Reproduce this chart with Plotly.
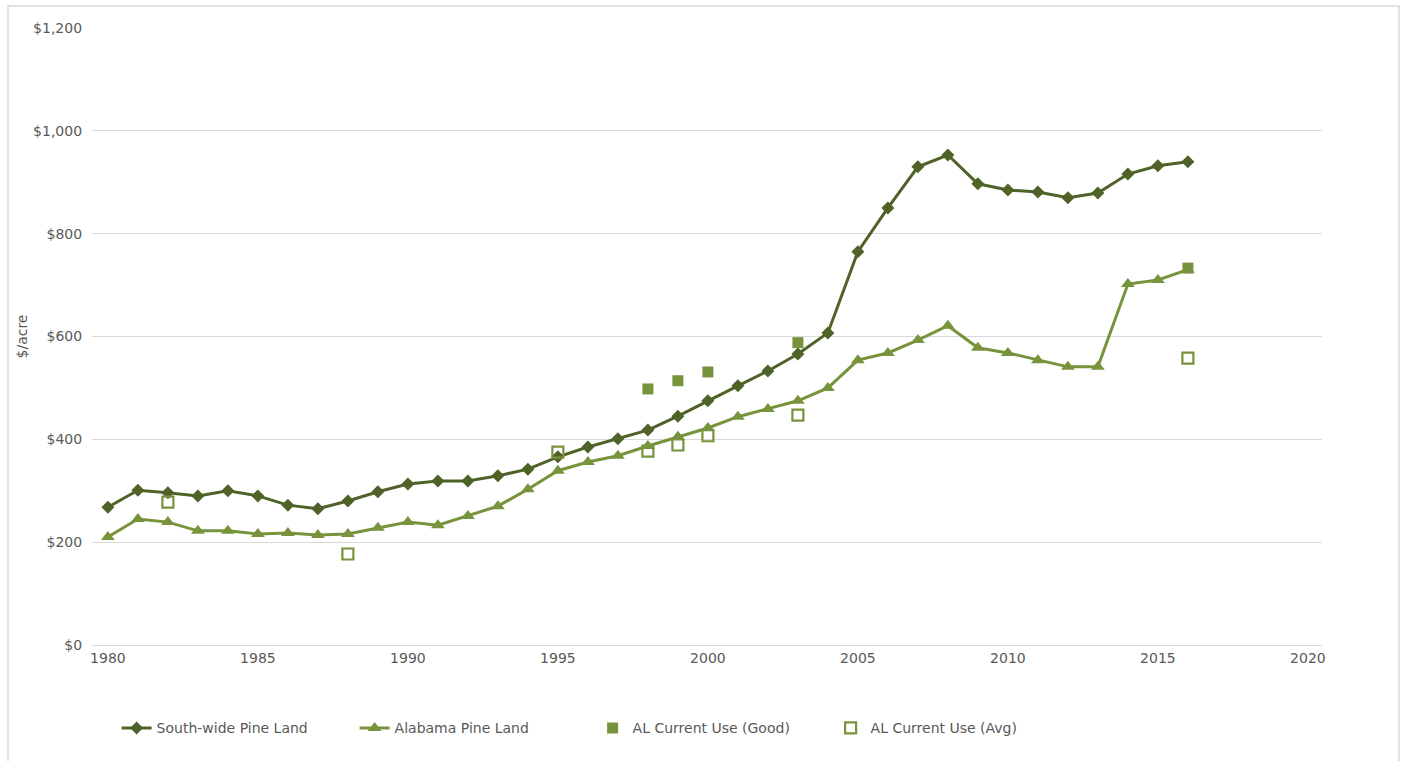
import plotly.graph_objects as go

years = list(range(1980, 2017))
south_wide = [268, 301, 296, 290, 300, 290, 272, 265, 280, 298, 313, 319, 319, 329, 342,
              366, 385, 401, 418, 445, 475, 504, 533, 566, 607, 765, 850, 930, 953, 897,
              885, 881, 870, 879, 916, 932, 940]
alabama = [210, 245, 239, 222, 222, 216, 218, 214, 216, 228, 239, 233, 251, 270, 303,
           339, 356, 368, 387, 405, 422, 444, 459, 475, 500, 554, 568, 593, 621, 578,
           568, 554, 541, 541, 702, 710, 730]
good_years = [1998, 1999, 2000, 2003, 2016]
good_vals = [498, 514, 531, 588, 733]
avg_years = [1982, 1988, 1995, 1998, 1999, 2000, 2003, 2016]
avg_vals = [278, 177, 375, 377, 389, 407, 447, 558]

DARK = "#4F6228"
LIGHT = "#77933C"
TEXT = "#595959"
FONT = "DejaVu Sans"

fig = go.Figure()
fig.add_trace(go.Scatter(x=years, y=south_wide, name="South-wide Pine Land", mode="lines+markers",
                         line=dict(color=DARK, width=3), marker=dict(symbol="diamond", size=10, color=DARK)))
fig.add_trace(go.Scatter(x=years, y=alabama, name="Alabama Pine Land", mode="lines+markers",
                         line=dict(color=LIGHT, width=3), marker=dict(symbol="triangle-up", size=12, color=LIGHT)))
fig.add_trace(go.Scatter(x=good_years, y=good_vals, name="AL Current Use (Good)", mode="markers",
                         marker=dict(symbol="square", size=11, color=LIGHT)))
fig.add_trace(go.Scatter(x=avg_years, y=avg_vals, name="AL Current Use (Avg)", mode="markers",
                         marker=dict(symbol="square-open", size=11, color=LIGHT, line=dict(width=2.2, color=LIGHT))))

fig.update_layout(
    width=1403, height=761,
    margin=dict(l=92, r=81, t=28, b=116),
    paper_bgcolor="white", plot_bgcolor="white",
    font=dict(family=FONT, size=13, color=TEXT),
    showlegend=True,
    legend=dict(orientation="h", x=0.02, xanchor="left", y=-0.135, yanchor="middle",
                entrywidth=193, entrywidthmode="pixels", font=dict(size=14, color=TEXT),
                bgcolor="rgba(0,0,0,0)"),
    xaxis=dict(range=[1979.47, 2020.47], tickmode="linear", tick0=1980, dtick=5,
               showgrid=False, zeroline=False, showline=True, linecolor="#D9D9D9",
               ticks="", tickfont=dict(size=14, color=TEXT)),
    yaxis=dict(range=[0, 1200], tickmode="linear", tick0=0, dtick=200,
               tickprefix="$", tickformat=",d", showgrid=True, gridcolor="#D9D9D9", gridwidth=1,
               zeroline=False, showline=False, ticks="", ticklen=0,
               tickfont=dict(size=14, color=TEXT),
               title=dict(text="$/acre", font=dict(size=14, color=TEXT), standoff=2)),
    shapes=[dict(type="rect", xref="paper", yref="paper", x0=-84/1230, x1=1+77/1230,
                 y0=-125/617, y1=1+22/617, line=dict(color="#D9D9D9", width=1.5))],
)
fig.update_yaxes(ticksuffix="  ")

fig.write_html("out.html")
